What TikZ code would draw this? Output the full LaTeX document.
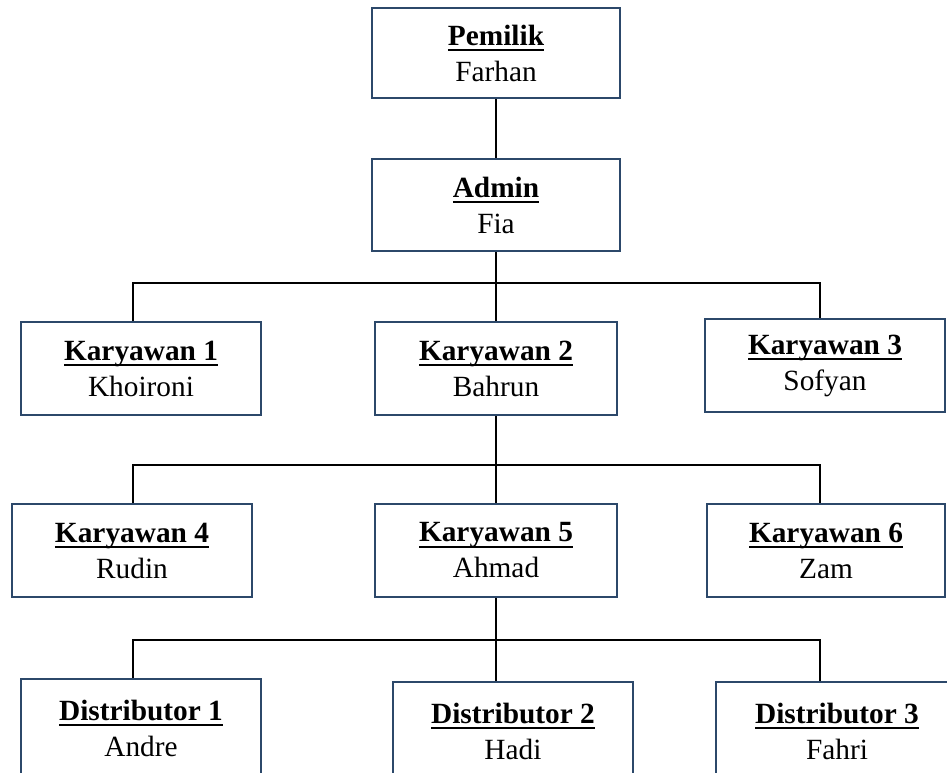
\documentclass[tikz,border=0pt]{standalone}
\usepackage{fontspec}
\setmainfont{Liberation Serif}
\definecolor{boxblue}{RGB}{44,72,106}
\newsavebox{\judulbox}
\newcommand{\judul}[1]{\sbox{\judulbox}{\textbf{#1}}\rlap{\rule[-4.8pt]{\wd\judulbox}{2pt}}\usebox{\judulbox}}

\begin{document}
\begin{tikzpicture}[x=0.75pt,y=-0.75pt]
	\tikzstyle{org box} = [draw=boxblue, line width=1.5pt, fill=white, align=center, inner sep=0pt, font=\fontsize{22}{27}\selectfont, minimum width=180pt, minimum height=69.75pt]
	\tikzstyle{link line} = [line width=1.5pt]

	\clip (0,0) rectangle (947,772);

	\node[org box, minimum width=186pt, minimum height=67.5pt] (pemilik) at (496,53) {\judul{Pemilik}\\Farhan};
	\node[org box, minimum width=186pt, minimum height=69pt] (admin) at (496,205) {\judul{Admin}\\Fia};

	\node[org box] (k1) at (141,368.5) {\judul{Karyawan 1}\\Khoironi};
	\node[org box, minimum width=181.5pt] (k2) at (496,368.5) {\judul{Karyawan 2}\\Bahrun};
	\node[org box] (k3) at (825,365.5) {\judul{Karyawan 3}\\Sofyan};

	\node[org box] (k4) at (132,550.5) {\judul{Karyawan 4}\\Rudin};
	\node[org box, minimum width=181.5pt] (k5) at (496,550.5) {\judul{Karyawan 5}\\Ahmad};
	\node[org box, minimum width=178.5pt] (k6) at (826,550.5) {\judul{Karyawan 6}\\Zam};

	\node[org box, minimum height=74pt] (d1) at (141,728) {\judul{Distributor 1}\\Andre};
	\node[org box, minimum height=74pt] (d2) at (513,731) {\judul{Distributor 2}\\Hadi};
	\node[org box, minimum width=181.5pt, minimum height=74pt] (d3) at (837,731) {\judul{Distributor 3}\\Fahri};

	\coordinate (bus1) at (496,283);
	\coordinate (bus1 left) at (133,283);
	\coordinate (bus1 right) at (820,283);
	\coordinate (bus2) at (496,465);
	\coordinate (bus2 left) at (133,465);
	\coordinate (bus2 right) at (820,465);
	\coordinate (bus3) at (496,640);
	\coordinate (bus3 left) at (133,640);
	\coordinate (bus3 right) at (820,640);

	\draw[link line] (pemilik.south) -- (admin.north);

	\draw[link line] (admin.south) -- (bus1) -- (k2.north);
	\draw[link line] (bus1 left |- k1.north) -- (bus1 left) -- (bus1 right) -- (bus1 right |- k3.north);

	\draw[link line] (k2.south) -- (bus2) -- (k5.north);
	\draw[link line] (bus2 left |- k4.north) -- (bus2 left) -- (bus2 right) -- (bus2 right |- k6.north);

	\draw[link line] (k5.south) -- (bus3) -- (bus3 |- d2.north);
	\draw[link line] (bus3 left |- d1.north) -- (bus3 left) -- (bus3 right) -- (bus3 right |- d3.north);

\end{tikzpicture}
\end{document}
